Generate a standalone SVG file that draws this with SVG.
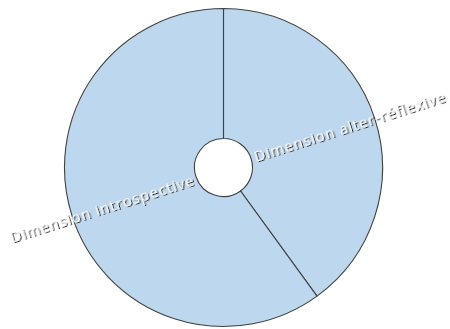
<svg xmlns="http://www.w3.org/2000/svg" width="450" height="329" viewBox="0 0 450 329">
<defs>
<style>
.slice{fill:#bdd7ee;stroke:#404040;stroke-width:1.1}
.lbl{font-family:"Open Sans","DejaVu Sans",sans-serif;font-size:15px;letter-spacing:1px;fill:#ffffff;filter:url(#shadow)}
</style>
<filter id="shadow" x="-10%" y="-50%" width="120%" height="200%">
<feDropShadow dx="1" dy="1" stdDeviation="0.7" flood-color="#202020" flood-opacity="1"/>
</filter>
</defs>
<rect width="450" height="329" fill="#ffffff"/>
<g id="slice-alter-reflexive">
<path class="slice" d="M223.5,8.5 A159,159 0 0 1 317.0,296.1 L240.55,190.96 A29,29 0 0 0 223.5,138.5 Z"/>
</g>
<g id="slice-introspective">
<path class="slice" d="M317.0,296.1 A159,159 0 1 1 223.5,8.5 L223.5,138.5 A29,29 0 1 0 240.55,190.96 Z"/>
</g>
<g id="labels">
<text class="lbl" x="12" y="243" transform="rotate(-17.6 12 243)">Dimension introspective</text>
<text class="lbl" x="256" y="162" transform="rotate(-17.6 256 162)">Dimension alter-réflexive</text>
</g>
</svg>
